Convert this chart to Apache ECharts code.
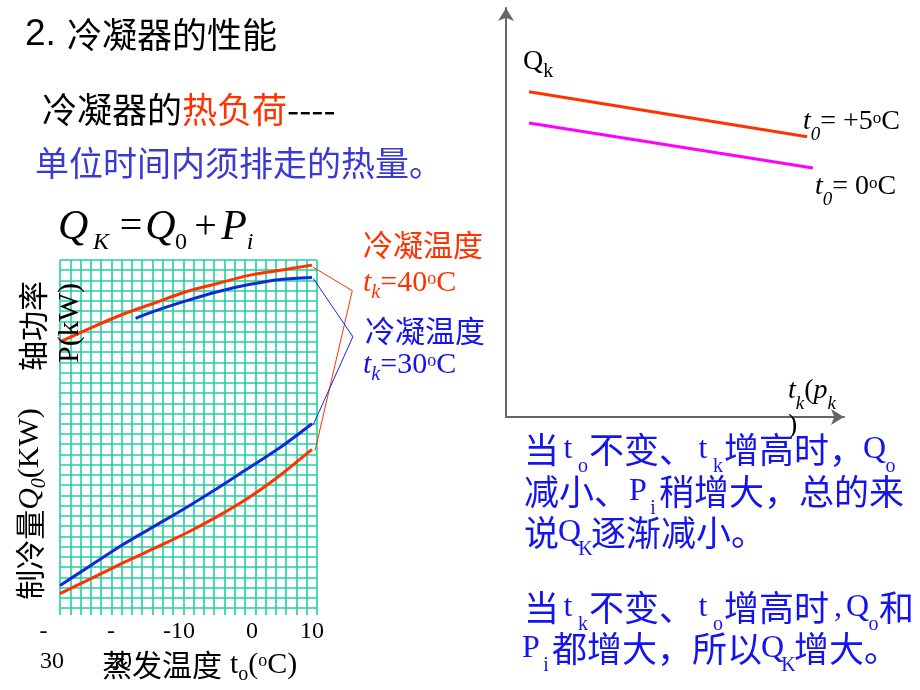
<!DOCTYPE html>
<html><head><meta charset="utf-8">
<script src="https://cdn.jsdelivr.net/npm/echarts@6/dist/echarts.min.js"></script>
<style>html,body{margin:0;padding:0;background:#fff}#c{width:920px;height:690px}</style>
</head><body><div id="c"></div>
<script>
// ---------- data ----------
// left chart: x = evaporating temperature (°C), y = relative scale in grid cells
const tempTicks = [-30, -20, -10, 0, 10];
const tickLabels = ['-\n30', '-\n20', '-10', '0', '10'];
const shaftPower40 = [[-30,26.0],[-25,27.4],[-20,28.7],[-15,29.8],[-10,30.9],[-5,31.7],[0,32.5],[5,33.0],[10,33.5]];
const shaftPower30 = [[-18,28.3],[-15,29.0],[-10,30.0],[-5,30.9],[0,31.6],[5,32.1],[10,32.3]];
const coolCap30 = [[-30,2.2],[-25,4.2],[-20,6.2],[-15,8.0],[-10,9.8],[-5,11.7],[0,13.7],[5,15.7],[10,18.0]];
const coolCap40 = [[-30,1.4],[-25,2.9],[-20,4.4],[-15,5.85],[-10,7.3],[-5,8.95],[0,10.8],[5,13.0],[10,15.5]];
const callout40 = [[10.2,33.3],[16.4,31.0],[10.5,15.4]];
const callout30 = [[10.2,32.2],[16.5,26.5],[10.2,17.9]];
// right chart: Qk vs tk (schematic)
const qkT5 = [[0.68,7.95],[8.91,6.85]];
const qkT0 = [[0.68,7.19],[9.08,6.09]];

// ---------- styles ----------
const CJK = '"Noto Sans CJK SC", sans-serif';
const SERIF = '"Liberation Serif", "Times New Roman", serif';
const SANS = '"Liberation Sans", Arial, sans-serif';
const RED = '#ff3300';
const CURVE_BLUE = '#0d2bd6';
const TXT_BLUE = '#1414ee';
const TEAL = '#22cfa0';

function T(x, y, text, rich, extra) {
  const st = Object.assign({text: text, rich: rich || {}, align: 'left', verticalAlign: 'top',
    textAlign: 'left', textVerticalAlign: 'top'}, (extra && extra.style) || {});
  const el = {type: 'text', x: x, y: y, z: 100, silent: true, style: st};
  if (extra && extra.rotation) el.rotation = extra.rotation;
  return el;
}

const paraRich = {
  c: {fontFamily: CJK, fontSize: 35, lineHeight: 40, verticalAlign: 'top', fill: TXT_BLUE},
  l: {fontFamily: SERIF, fontSize: 32, lineHeight: 40, width: 18, padding: [2,0,0,0], align: 'center', verticalAlign: 'top', fill: TXT_BLUE},
  L: {fontFamily: SERIF, fontSize: 32, lineHeight: 40, width: 21, padding: [2,0,0,0], align: 'center', verticalAlign: 'top', fill: TXT_BLUE},
  s: {fontFamily: SERIF, fontSize: 20, lineHeight: 20, width: 12, padding: [25,0,0,0], align: 'center', verticalAlign: 'top', fill: TXT_BLUE},
  S: {fontFamily: SERIF, fontSize: 20, lineHeight: 20, width: 11, padding: [25,0,0,0], align: 'center', verticalAlign: 'top', fill: TXT_BLUE}
};
function legRich(col) {
  return {
    c: {fontFamily: CJK, fontSize: 30, lineHeight: 34, verticalAlign: 'top', fill: col},
    t: {fontFamily: SERIF, fontStyle: 'italic', fontSize: 30, lineHeight: 34, verticalAlign: 'top', fill: col},
    n: {fontFamily: SERIF, fontSize: 30, lineHeight: 34, verticalAlign: 'top', fill: col},
    s: {fontFamily: SERIF, fontStyle: 'italic', fontSize: 20, lineHeight: 20, padding: [15,0,0,0], verticalAlign: 'top', fill: col},
    u: {fontFamily: SERIF, fontSize: 18, lineHeight: 18, padding: [2,0,0,0], verticalAlign: 'top', fill: col}
  };
}
const rich28 = {
  t: {fontFamily: SERIF, fontStyle: 'italic', fontSize: 28, lineHeight: 32, verticalAlign: 'top', fill: '#000'},
  n: {fontFamily: SERIF, fontSize: 28, lineHeight: 32, verticalAlign: 'top', fill: '#000'},
  s: {fontFamily: SERIF, fontStyle: 'italic', fontSize: 19, lineHeight: 19, padding: [17,0,0,0], verticalAlign: 'top', fill: '#000'},
  k: {fontFamily: SERIF, fontSize: 20, lineHeight: 20, padding: [14,0,0,0], verticalAlign: 'top', fill: '#000'},
  u: {fontFamily: SERIF, fontSize: 17, lineHeight: 17, padding: [2,0,0,0], verticalAlign: 'top', fill: '#000'}
};
const formulaRich = {
  Q: {fontFamily: SERIF, fontStyle: 'italic', fontSize: 42, lineHeight: 48, width: 35, verticalAlign: 'top', fill: '#000'},
  Q2: {fontFamily: SERIF, fontStyle: 'italic', fontSize: 42, lineHeight: 48, width: 27, verticalAlign: 'top', fill: '#000'},
  K: {fontFamily: SERIF, fontStyle: 'italic', fontSize: 24, lineHeight: 24, width: 22, padding: [24,0,0,0], verticalAlign: 'top', fill: '#000'},
  z: {fontFamily: SERIF, fontSize: 24, lineHeight: 24, width: 14, padding: [24,0,0,0], verticalAlign: 'top', fill: '#000'},
  eq: {fontFamily: SERIF, fontSize: 40, lineHeight: 48, width: 32, align: 'center', verticalAlign: 'top', fill: '#000'},
  pl: {fontFamily: SERIF, fontSize: 40, lineHeight: 48, width: 35, align: 'center', verticalAlign: 'top', fill: '#000'},
  P: {fontFamily: SERIF, fontStyle: 'italic', fontSize: 42, lineHeight: 48, width: 22, verticalAlign: 'top', fill: '#000'},
  i: {fontFamily: SERIF, fontStyle: 'italic', fontSize: 24, lineHeight: 24, width: 10, padding: [24,0,0,0], verticalAlign: 'top', fill: '#000'}
};
const axRich = {
  c: {fontFamily: CJK, fontSize: 30, lineHeight: 34, verticalAlign: 'top', fill: '#000'},
  q: {fontFamily: SERIF, fontStyle: 'italic', fontSize: 30, lineHeight: 34, verticalAlign: 'top', fill: '#000'},
  n: {fontFamily: SERIF, fontSize: 30, lineHeight: 34, verticalAlign: 'top', fill: '#000'},
  s: {fontFamily: SERIF, fontStyle: 'italic', fontSize: 20, lineHeight: 20, padding: [15,0,0,0], verticalAlign: 'top', fill: '#000'},
  so: {fontFamily: SERIF, fontSize: 20, lineHeight: 20, padding: [15,0,0,0], verticalAlign: 'top', fill: '#000'},
  u: {fontFamily: SERIF, fontSize: 18, lineHeight: 18, padding: [2,0,0,0], verticalAlign: 'top', fill: '#000'},
  g: {fontFamily: SERIF, fontSize: 30, lineHeight: 34, width: 8, verticalAlign: 'top', fill: '#000'}
};
const tickPad = [[[0,33,0,0],[0,16,0,0]], [[0,24,0,0],[0,6,0,0]], [[0,14,0,0]], [[0,0,0,6]], [[0,0,0,0]]];
const tickRich = {};
tickPad.forEach((arr, i) => arr.forEach((p, j) => {
  tickRich['k' + i + j] = {fontFamily: SERIF, fontSize: 24, lineHeight: 30, color: '#000', padding: p};
}));

const graphics = [
  T(25, 13, '2.', null, {style: {font: '37px ' + SANS, fill: '#000', lineHeight: 44}}),
  T(67, 15, '冷凝器的性能', null, {style: {font: '35px ' + CJK, fill: '#000', lineHeight: 40}}),
  T(42, 90, '{a|冷凝器的}{b|热负荷}{a|----}', {
    a: {fontFamily: CJK, fontSize: 35, lineHeight: 40, fill: '#000'},
    b: {fontFamily: CJK, fontSize: 35, lineHeight: 40, fill: RED}}),
  T(35, 143, '单位时间内须排走的热量。', null, {style: {font: '34px ' + CJK, fill: '#3a3ad2', lineHeight: 40}}),
  T(58, 207, '{Q|Q}{K|K}{eq|=}{Q2|Q}{z|0}{pl|+}{P|P}{i|i}', formulaRich),
  // rotated axis titles
  T(33, 326, '轴功率', null, {rotation: Math.PI / 2, style: {font: '30px ' + CJK, fill: '#000', align: 'center', verticalAlign: 'middle', textAlign: 'center', textVerticalAlign: 'middle'}}),
  T(70, 323, 'P(kW)', null, {rotation: Math.PI / 2, style: {font: '30px ' + SERIF, fill: '#000', align: 'center', verticalAlign: 'middle', textAlign: 'center', textVerticalAlign: 'middle'}}),
  T(15, 504, '{c|制冷量}{q|Q}{s|0}{n|(KW)}', axRich, {rotation: Math.PI / 2, style: {align: 'center', textAlign: 'center'}}),
  T(102, 650, '{c|蒸发温度}{g| }{n|t}{so|o}{n|(}{u|o}{n|C)}', axRich),
  // legend of left chart
  T(363, 230, '{c|冷凝温度}', legRich(RED)),
  T(363, 268, '{t|t}{s|k}{n|=40}{u|o}{n|C}', legRich(RED)),
  T(365, 316, '{c|冷凝温度}', legRich(TXT_BLUE)),
  T(363, 350, '{t|t}{s|k}{n|=30}{u|o}{n|C}', legRich(TXT_BLUE)),
  // right chart labels
  T(523, 48, '{n|Q}{k|k}', rich28),
  T(803, 108, '{t|t}{s|0}{n|= +5}{u|o}{n|C}', rich28),
  T(815, 173, '{t|t}{s|0}{n|= 0}{u|o}{n|C}', rich28),
  T(788, 377, '{t|t}{s|k}{n|(}{t|p}{s|k}', rich28),
  T(788, 412, '{n|)}', rich28),
  // explanation paragraph
  T(524, 432, '{c|当}{l|t}{s|o}{c|不变、}{l|t}{s|k}{c|增高时，}{L|Q}{S|o}', paraRich),
  T(524, 474, '{c|减小、}{l|P}{s|i}{c|稍增大，总的来}', paraRich),
  T(524, 515, '{c|说}{L|Q}{S|K}{c|逐渐减小。}', paraRich),
  T(524, 590, '{c|当}{l|t}{s|k}{c|不变、}{l|t}{s|o}{c|增高时}{l|,}{L|Q}{S|o}{c|和}', paraRich),
  T(522, 631, '{l|P}{s|i}{c|都增大，所以}{L|Q}{S|K}{c|增大。}', paraRich)
];

const chart = echarts.init(document.getElementById('c'));
const hidden = {axisLine: {show: false}, axisTick: {show: false}, axisLabel: {show: false}, splitLine: {show: false}};
const option = {
  animation: false,
  backgroundColor: '#fff',
  grid: [
    {left: 60, top: 260, width: 257, height: 348},
    {left: 506, top: 8, width: 338, height: 409},
    // same scale as grid 0, but wider, for the callout lines to the legend
    {left: 60, top: 260, width: 300, height: 348}
  ],
  xAxis: [
    {gridIndex: 0, type: 'value', min: -30, max: 10.8, interval: 10, position: 'bottom',
      axisLine: {show: false}, axisTick: {show: false}, splitLine: {show: false},
      axisLabel: {show: true, margin: 9, showMinLabel: true, showMaxLabel: true, hideOverlap: false,
        formatter: function (v) {
          const i = tempTicks.indexOf(Math.round(v * 1000) / 1000);
          if (i < 0) return '';
          return tickLabels[i].split('\n').map((p, j) => '{k' + i + j + '|' + p + '}').join('\n');
        },
        rich: tickRich}},
    {gridIndex: 0, type: 'value', min: 0, max: 25, interval: 1, position: 'bottom',
      axisLine: {show: false}, axisLabel: {show: false},
      axisTick: {show: true, length: 7, lineStyle: {color: TEAL, width: 1.6}},
      splitLine: {show: true, lineStyle: {color: TEAL, width: 1.6}}},
    {gridIndex: 1, type: 'value', min: 0, max: 10, axisTick: {show: false}, axisLabel: {show: false}, splitLine: {show: false},
      axisLine: {show: true, symbol: ['none', 'arrow'], symbolSize: [12, 13], lineStyle: {color: '#666', width: 2}}},
    Object.assign({gridIndex: 2, type: 'value', min: -30, max: -30 + 300 * 40.8 / 257}, hidden)
  ],
  yAxis: [
    {gridIndex: 0, type: 'value', min: 0, max: 34, interval: 1,
      axisLine: {show: false}, axisTick: {show: false}, axisLabel: {show: false},
      splitLine: {show: true, lineStyle: {color: TEAL, width: 1.6}}},
    {gridIndex: 1, type: 'value', min: 0, max: 10, axisTick: {show: false}, axisLabel: {show: false}, splitLine: {show: false},
      axisLine: {show: true, symbol: ['none', 'arrow'], symbolSize: [12, 13], lineStyle: {color: '#666', width: 2}}},
    Object.assign({gridIndex: 2, type: 'value', min: 0, max: 34}, hidden)
  ],
  series: [
    {type: 'line', xAxisIndex: 0, yAxisIndex: 0, data: shaftPower40, smooth: 0.3, symbol: 'none', lineStyle: {color: RED, width: 3}, z: 5},
    {type: 'line', xAxisIndex: 0, yAxisIndex: 0, data: shaftPower30, smooth: 0.3, symbol: 'none', lineStyle: {color: CURVE_BLUE, width: 3}, z: 5},
    {type: 'line', xAxisIndex: 0, yAxisIndex: 0, data: coolCap30, smooth: 0.3, symbol: 'none', lineStyle: {color: CURVE_BLUE, width: 3}, z: 5},
    {type: 'line', xAxisIndex: 0, yAxisIndex: 0, data: coolCap40, smooth: 0.3, symbol: 'none', lineStyle: {color: RED, width: 3}, z: 5},
    {type: 'line', xAxisIndex: 3, yAxisIndex: 2, data: callout40, symbol: 'none', lineStyle: {color: RED, width: 1}, z: 6},
    {type: 'line', xAxisIndex: 3, yAxisIndex: 2, data: callout30, symbol: 'none', lineStyle: {color: CURVE_BLUE, width: 1}, z: 6},
    {type: 'line', xAxisIndex: 2, yAxisIndex: 1, data: qkT5, symbol: 'none', lineStyle: {color: RED, width: 3}},
    {type: 'line', xAxisIndex: 2, yAxisIndex: 1, data: qkT0, symbol: 'none', lineStyle: {color: '#ff00ff', width: 3}}
  ],
  graphic: graphics
};
chart.setOption(option);
</script>
</body></html>
